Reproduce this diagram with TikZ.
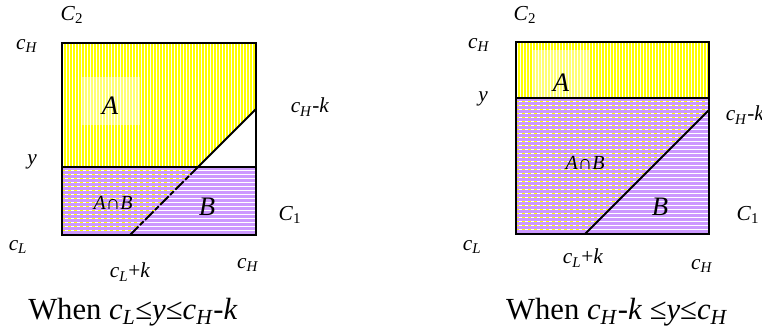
\documentclass[tikz,border=0pt]{standalone}
\usepackage{fontspec}
\setmainfont{Liberation Serif}
\usetikzlibrary{positioning}
\definecolor{lilac}{RGB}{204,153,255}
\definecolor{lemon}{RGB}{255,255,0}
\newcommand{\lowsym}[2]{\textit{#1}\textsubscript{\textit{#2}}}

\begin{document}
\begin{tikzpicture}[
  x=0.75pt, y=-0.75pt,
  frame/.style={draw=black, line width=1.9pt},
  cut/.style={draw=black, line width=1.5pt},
  lbl/.style={font=\fontsize{16}{18}\selectfont, inner sep=0pt},
  big/.style={font=\fontsize{20}{22}\selectfont\itshape, inner sep=0pt},
  meet/.style={font=\fontsize{15}{17}\selectfont, inner sep=0pt},
  whenlbl/.style={font=\fontsize{23}{26}\selectfont, inner sep=0pt},
  vstripe/.style={white, line width=0.7pt},
  hstripe/.style={white, line width=0.75pt},
  hdash/.style={lemon, line width=0.75pt, dash pattern=on 2.5pt off 2pt}
]
\useasboundingbox[fill=white] (0,0) rectangle (762,335);

\coordinate (lSW) at (62,235);
\coordinate (lNW) at (62,43);
\coordinate (lNE) at (256,43);
\coordinate (lSE) at (256,235);
\coordinate (lyW) at (62,167);
\coordinate (lyE) at (256,167);
\coordinate (lkB) at (130,235);
\coordinate (lkR) at (256,109);
\coordinate (lkY) at (198,167);

\begin{scope}
  \clip (lNW) -- (lNE) -- (lkR) -- (lkY) -- (lyW) -- cycle;
  \fill[lemon] (lNW) rectangle (lyE);
  \foreach \x in {63.5,66.5,...,256} \draw[vstripe] (\x,43) -- (\x,167);
\end{scope}
\fill[white, opacity=0.45] (82,77) rectangle (140,125);
\fill[lilac] (lyW) rectangle (lSE);
\foreach \y in {170,174,...,234} \draw[hstripe] (62,\y) -- (256,\y);
\begin{scope}
  \clip (lyW) -- (lkY) -- (lkB) -- (lSW) -- cycle;
  \foreach \y in {170,174,...,234} \draw[hdash] (62,\y) -- (256,\y);
\end{scope}

\draw[frame] (lSW) rectangle (lNE);
\draw[frame] (lyW) -- (lyE);
\draw[cut] (lkY) -- (lkR);
\draw[cut, dash pattern=on 9pt off 1.5pt on 4pt off 1.5pt] (lkB) -- (lkY);

\node[lbl] (lC2) at (72,15) {\textit{C}\textsubscript{2}};
\node[lbl] (lcH) at (27,46) {\lowsym{c}{H}};
\node[big] (lA) at (110,106) {A};
\node[lbl] (lcHk) at (310,107) {\lowsym{c}{H}-\textit{k}};
\node[lbl] (ly) at (32,162) {\textit{y}};
\node[meet] (lAB) at (113,203) {\textit{A}∩\textit{B}};
\node[big] (lB) at (207,207) {B};
\node[lbl] (lC1) at (290,215) {\textit{C}\textsubscript{1}};
\node[lbl] (lcL) at (18,247) {\lowsym{c}{L}};
\node[lbl] (lcLk) at (130,272) {\lowsym{c}{L}+\textit{k}};
\node[lbl] (lcHb) at (248,265) {\lowsym{c}{H}};
\node[whenlbl] (lcap) at (133,312) {When \lowsym{c}{L}≤\textit{y}≤\lowsym{c}{H}-\textit{k}};

\coordinate (rSW) at (516,234);
\coordinate (rNW) at (516,42);
\coordinate (rNE) at (709,42);
\coordinate (rSE) at (709,234);
\coordinate (ryW) at (516,98);
\coordinate (ryE) at (709,98);
\coordinate (rkB) at (585,234);
\coordinate (rkR) at (709,110);

\fill[lemon] (rNW) rectangle (ryE);
\foreach \x in {517.5,520.5,...,709} \draw[vstripe] (\x,42) -- (\x,98);
\fill[white, opacity=0.45] (532,50) rectangle (590,98);
\fill[lilac] (ryW) rectangle (rSE);
\foreach \y in {101,105,...,233} \draw[hstripe] (516,\y) -- (709,\y);
\begin{scope}
  \clip (ryW) -- (ryE) -- (rkR) -- (rkB) -- (rSW) -- cycle;
  \foreach \y in {101,105,...,233} \draw[hdash] (516,\y) -- (709,\y);
\end{scope}

\draw[frame] (rSW) rectangle (rNE);
\draw[frame] (ryW) -- (ryE);
\draw[cut] (rkB) -- (rkR);

\node[lbl] (rC2) at (525,15) {\textit{C}\textsubscript{2}};
\node[lbl] (rcH) at (479,45) {\lowsym{c}{H}};
\node[big] (rA) at (561,83) {A};
\node[lbl] (ry) at (483,99) {\textit{y}};
\node[lbl] (rcHk) at (745,115) {\lowsym{c}{H}-\textit{k}};
\node[meet] (rAB) at (585,163) {\textit{A}∩\textit{B}};
\node[big] (rB) at (660,207) {B};
\node[lbl] (rC1) at (748,215) {\textit{C}\textsubscript{1}};
\node[lbl] (rcL) at (472,247) {\lowsym{c}{L}};
\node[lbl] (rcLk) at (583,258) {\lowsym{c}{L}+\textit{k}};
\node[lbl] (rcHb) at (702,266) {\lowsym{c}{H}};
\node[whenlbl] (rcap) at (617,312) {When \lowsym{c}{H}-\textit{k} ≤\textit{y}≤\lowsym{c}{H}};
\end{tikzpicture}
\end{document}
